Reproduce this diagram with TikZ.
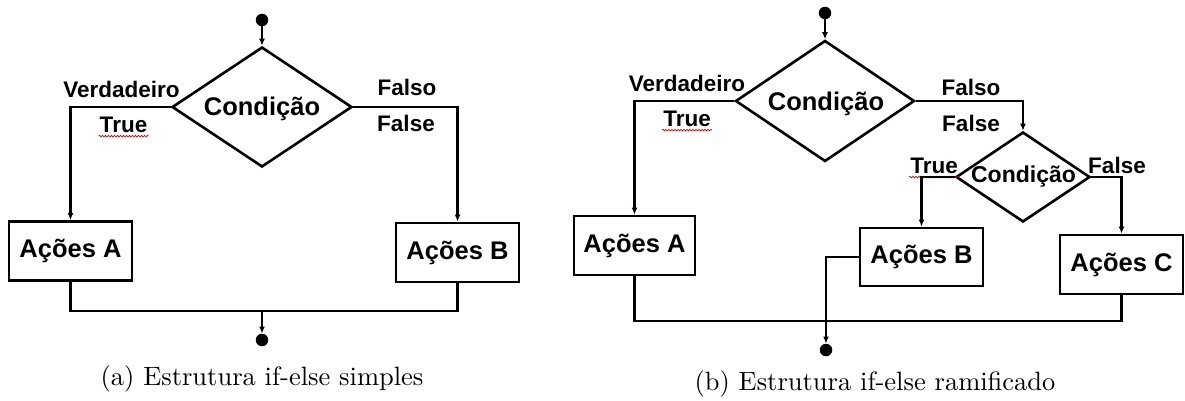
\documentclass[tikz,border=0pt]{standalone}
\usepackage{fontspec}
\newfontfamily\arialfont{Liberation Sans}
\usetikzlibrary{shapes.geometric,arrows.meta,decorations.pathmorphing}
\begin{document}
\begin{tikzpicture}[x=1pt,y=-1pt,
  conn/.style={line width=2.4pt},
  arr/.style={conn,-{Latex[length=7pt,width=6pt]}},
  actbox/.style={draw,line width=2.8pt,rectangle,minimum width=123pt,minimum height=59pt,inner sep=0pt,font=\arialfont\bfseries\fontsize{25.5}{30}\selectfont},
  dia/.style={draw,line width=2.6pt,diamond,inner sep=0pt},
  lbl/.style={inner sep=1pt,font=\arialfont\bfseries\fontsize{22.5}{27}\selectfont},
  cond/.style={inner sep=0pt,font=\arialfont\bfseries\fontsize{25.5}{30}\selectfont},
  blackdot/.style={circle,fill,inner sep=0pt,minimum size=12.5pt},
  squig/.style={draw=red!85!black,line width=0.7pt,decorate,decoration={snake,amplitude=0.8pt,segment length=3pt}},
  captext/.style={scale=2.65,inner sep=0pt}
]
\useasboundingbox (0,0) rectangle (1185,401);

% ---------- (a) ----------
\node[blackdot] (dotT1) at (262,20) {};
\node[dia,minimum width=180pt,minimum height=120pt] (d1) at (262,107) {};
\node[cond] (c1) at (262,109) {Condição};
\node[actbox] (A1) at (70.5,251) {Ações A};
\node[actbox] (B1) at (457.5,252.5) {Ações B};
\node[blackdot] (dotB1) at (262,340) {};
\coordinate (j1) at (262,311);

\node[lbl] (v1) at (121.5,89) {Verdadeiro};
\node[lbl] (t1) at (123.5,125) {True};
\node[lbl] (f1) at (407,87) {Falso};
\node[lbl] (e1) at (406,123) {False};
\draw[squig] ([yshift=-2pt]t1.south west) -- ([yshift=-2pt]t1.south east);

\draw[arr] (dotT1) -- (d1.north);
\draw[arr] (d1.west) -| (A1.north);
\draw[arr] (d1.east) -| (B1.north);
\draw[conn] (A1.south) |- (j1) -| (B1.south);
\draw[arr] (j1) -- (dotB1);

\node[captext] (capa) at (262,379) {(a) Estrutura if-else simples};

% ---------- (b) ----------
\node[blackdot] (dotT2) at (825,13) {};
\node[dia,minimum width=179pt,minimum height=121pt] (d2a) at (825,101) {};
\node[cond] (c2a) at (826,104) {Condição};
\node[actbox,minimum width=121pt] (A2) at (634.5,245.5) {Ações A};
\node[dia,minimum width=134pt,minimum height=90pt] (d2b) at (1023,177) {};
\node[cond,font=\arialfont\bfseries\fontsize{23}{27}\selectfont] (c2b) at (1023.5,177) {Condição};
\node[actbox,minimum height=58pt] (B2) at (921.5,257) {Ações B};
\node[actbox] (C2) at (1121.5,264.5) {Ações C};
\node[blackdot] (dotB2) at (826,350) {};
\coordinate (j2) at (826,321);

\node[lbl] (v2) at (687,83) {Verdadeiro};
\node[lbl] (t2) at (687,119) {True};
\node[lbl] (f2) at (971,87) {Falso};
\node[lbl] (e2) at (971,123) {False};
\node[lbl] (t3) at (934,166) {True};
\node[lbl] (e3) at (1117,165) {False};
\draw[squig] ([yshift=-2pt]t2.south west) -- ([yshift=-2pt]t2.south east);
\draw[squig] ([yshift=-2pt]t3.south west) -- ([yshift=-2pt]t3.south east);

\draw[arr] (dotT2) -- (d2a.north);
\draw[arr] (d2a.west) -| (A2.north);
\draw[arr] (d2a.east) -| (d2b.north);
\draw[arr] (d2b.west) -| (B2.north);
\draw[arr] (d2b.east) -| (C2.north);
\draw[conn] (A2.south) |- (j2) -| (C2.south);
\draw[arr] (B2.west) -| (dotB2);

\node[captext] (capb) at (875,384) {(b) Estrutura if-else ramificado};
\end{tikzpicture}
\end{document}
